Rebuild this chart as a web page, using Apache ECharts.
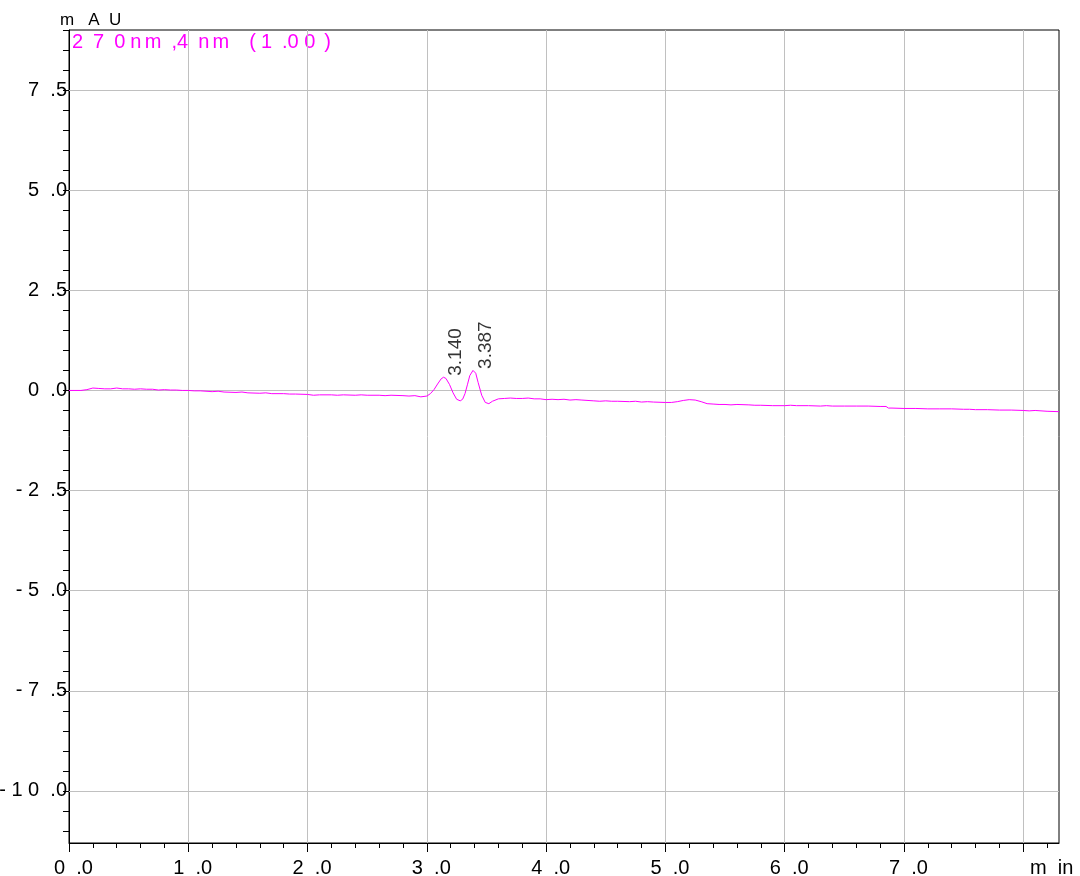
<!DOCTYPE html>
<html>
<head>
<meta charset="utf-8">
<script src="https://cdn.jsdelivr.net/npm/echarts@6/dist/echarts.min.js"></script>
<style>
html,body{margin:0;padding:0;background:#fff;}
#chart{width:1080px;height:876px;}
</style>
</head>
<body>
<div id="chart"></div>
<script>
// ---- data ----
const times = [0.00,0.05,0.10,0.15,0.20,0.25,0.30,0.35,0.40,0.45,0.50,0.55,0.60,0.65,0.70,0.75,0.80,0.85,0.90,0.95,
  1.00,1.05,1.10,1.20,1.25,1.30,1.40,1.45,1.50,1.60,1.65,1.70,1.80,1.85,1.90,
  2.00,2.05,2.10,2.20,2.25,2.30,2.40,2.45,2.50,2.60,2.65,2.70,2.80,2.85,2.90,2.95,
  3.00,3.03,3.06,3.09,3.12,3.14,3.16,3.19,3.22,3.25,3.28,3.30,3.32,3.34,3.36,3.387,3.41,3.43,3.46,3.49,3.52,3.55,
  3.60,3.65,3.70,3.75,3.80,3.85,3.90,3.95,
  4.00,4.05,4.10,4.15,4.20,4.25,4.30,4.40,4.45,4.50,4.55,4.60,4.70,4.75,4.80,4.85,4.90,
  5.00,5.05,5.10,5.15,5.20,5.25,5.30,5.35,5.40,5.45,5.50,5.55,5.60,5.70,5.75,5.80,5.90,
  6.00,6.05,6.10,6.20,6.30,6.35,6.40,6.50,6.60,6.70,6.80,6.85,6.87,6.90,
  7.00,7.10,7.20,7.30,7.40,7.50,7.55,7.60,7.70,7.80,7.90,
  8.00,8.05,8.10,8.20,8.30];
const signal = [0.00,0.00,0.00,0.02,0.06,0.05,0.04,0.04,0.06,0.04,0.04,0.03,0.04,0.03,0.03,0.01,0.02,0.01,0.01,0.00,
  0.00,-0.01,-0.01,-0.03,-0.02,-0.04,-0.05,-0.04,-0.06,-0.07,-0.06,-0.08,-0.08,-0.09,-0.09,
  -0.10,-0.12,-0.11,-0.11,-0.12,-0.11,-0.12,-0.11,-0.12,-0.12,-0.13,-0.12,-0.13,-0.14,-0.13,-0.16,
  -0.14,-0.08,0.02,0.16,0.29,0.33,0.30,0.15,-0.06,-0.22,-0.26,-0.22,-0.08,0.14,0.37,0.50,0.43,0.20,-0.12,-0.30,-0.33,-0.27,
  -0.21,-0.20,-0.19,-0.20,-0.20,-0.19,-0.21,-0.21,
  -0.23,-0.22,-0.23,-0.22,-0.24,-0.23,-0.24,-0.26,-0.27,-0.26,-0.27,-0.27,-0.28,-0.27,-0.29,-0.28,-0.29,
  -0.30,-0.30,-0.28,-0.25,-0.23,-0.24,-0.28,-0.33,-0.34,-0.35,-0.35,-0.36,-0.35,-0.36,-0.37,-0.37,-0.38,
  -0.38,-0.37,-0.38,-0.38,-0.39,-0.38,-0.39,-0.39,-0.39,-0.39,-0.40,-0.40,-0.44,-0.44,
  -0.45,-0.45,-0.46,-0.46,-0.46,-0.47,-0.47,-0.48,-0.48,-0.49,-0.49,
  -0.50,-0.51,-0.50,-0.52,-0.53];
const peakTimes = [3.140, 3.387];
const peakHeights = [0.33, 0.50];
const xTickMajor = [0,1,2,3,4,5,6,7,8];
const xLabels = [0,1,2,3,4,5,6,7];
const xMinor = [0.2,0.4,0.6,0.8,1.2,1.4,1.6,1.8,2.2,2.4,2.6,2.8,3.2,3.4,3.6,3.8,4.2,4.4,4.6,4.8,5.2,5.4,5.6,5.8,6.2,6.4,6.6,6.8,7.2,7.4,7.6,7.8,8.2];
const yLabels = [-10,-7.5,-5,-2.5,0,2.5,5,7.5];
const yTicks = [-11,-10.5,-10,-9.5,-9,-8.5,-8,-7.5,-7,-6.5,-6,-5.5,-5,-4.5,-4,-3.5,-3,-2.5,-2,-1.5,-1,-0.5,0,0.5,1,1.5,2,2.5,3,3.5,4,4.5,5,5.5,6,6.5,7,7.5,8,8.5,9];
const xGrid = [1,2,3,4,5,6,7,8];
const yGrid = [-10,-7.5,-5,-2.5,0,2.5,5,7.5];
const yTitle = 'm   A  U';
// spaced lettering of the original, using em-fraction spaces
const legendText = '2\u2004\u20067\u2004\u20060\u2005n\u2006m\u2002,4\u2002n\u2006m\u2002\u2002(\u20051\u2005\u2005.0 0 \u2006)';
const xUnit = 'm  in';

// ---- helpers ----
function spaced(v){
  const s = v.toFixed(1);
  let out = '';
  for (let i = 0; i < s.length; i++){
    const c = s[i];
    if (i > 0){
      if (c === '.') out += '  ';
      else if (s[i-1] !== '.') out += ' ';
    }
    out += c;
  }
  return out;
}
const FONT = "'Liberation Sans', Arial, sans-serif";
const lineData = times.map((t,i)=>[t, signal[i]]);
const peakData = peakTimes.map((t,i)=>[t, peakHeights[i]]);

const chart = echarts.init(document.getElementById('chart'), null, {renderer:'canvas'});
const option = {
  animation: false,
  backgroundColor: '#fff',
  grid: {left: 69, right: 21, top: 30, bottom: 33, outerBoundsMode: 'none', containLabel: false,
         show: true, borderColor: '#000', borderWidth: 1, backgroundColor: 'transparent'},
  xAxis: [
    {type:'value', min:0, max:8.3, position:'bottom',
     axisLine:{show:true, onZero:false, lineStyle:{color:'#000', width:1}},
     axisTick:{show:true, inside:false, length:9, customValues:xTickMajor, lineStyle:{color:'#000', width:1}},
     axisLabel:{show:true, customValues:xLabels, margin:15, color:'#000', fontSize:20, fontFamily:FONT,
       padding:[0,0,0,9], formatter: v => spaced(v)},
     splitLine:{show:false}},
    {type:'value', min:0, max:8.3, position:'bottom',
     axisLine:{show:false, onZero:false},
     axisTick:{show:true, inside:false, length:5, customValues:xMinor, lineStyle:{color:'#000', width:1}},
     axisLabel:{show:false},
     splitLine:{show:false}}
  ],
  yAxis: [
    {type:'value', min:-11.3, max:9, position:'left',
     axisLine:{show:true, onZero:false, lineStyle:{color:'#000', width:1}},
     axisTick:{show:true, inside:false, length:6, customValues:yTicks, lineStyle:{color:'#000', width:1}},
     axisLabel:{show:true, customValues:yLabels, margin:2, color:'#000', fontSize:20, fontFamily:FONT,
       formatter: v => spaced(v)},
     splitLine:{show:false}}
  ],
  graphic: [
    {type:'text', left:60, top:12, style:{text:yTitle, fill:'#000', font:'17px ' + FONT}},
    {type:'text', left:72, top:32, style:{text:legendText, fill:'#FF00FF', font:'20px ' + FONT}},
    {type:'text', left:1030, top:858, style:{text:xUnit, fill:'#000', font:'20px ' + FONT}}
  ],
  series: [
    {type:'line', xAxisIndex:0, yAxisIndex:0, data:lineData, showSymbol:false, symbol:'none',
     lineStyle:{color:'#FF00FF', width:1}, silent:true, z:3,
     markLine:{silent:true, z:1, symbol:['none','none'], label:{show:false}, animation:false,
       lineStyle:{color:'#c0c0c0', type:'solid', width:1},
       emphasis:{disabled:true},
       data: xGrid.map(v=>({xAxis:v})).concat(yGrid.map(v=>({yAxis:v})))}},
    {type:'scatter', xAxisIndex:0, yAxisIndex:0, data:peakData, symbolSize:0, silent:true, z:4,
     label:{show:true, position:'inside', rotate:90, align:'left', verticalAlign:'middle',
       offset:[1.5,12.5], color:'#000', fontSize:19, fontFamily:FONT,
       formatter: p => p.value[0].toFixed(3)}}
  ]
};
chart.setOption(option);
</script>
</body>
</html>
